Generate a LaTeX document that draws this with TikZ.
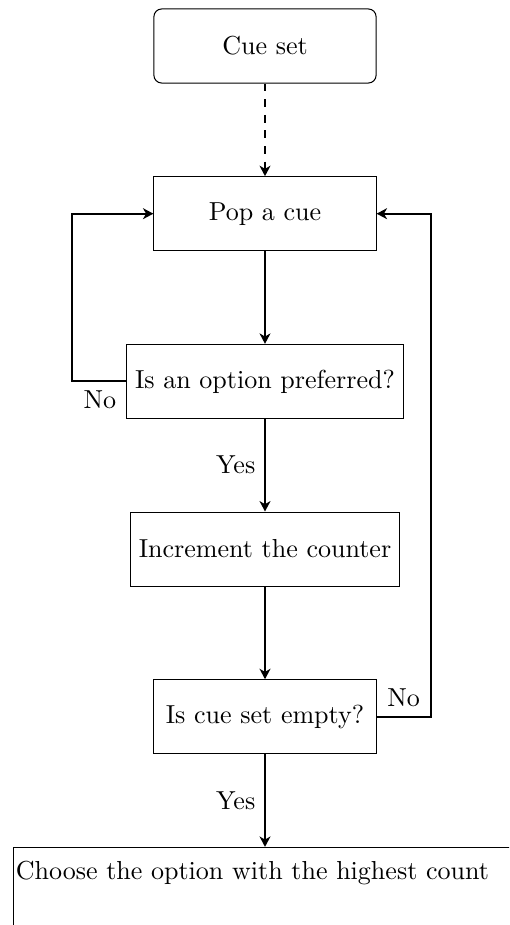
\documentclass[tikz,border=0pt]{standalone}
\usetikzlibrary{arrows.meta}
\usetikzlibrary{positioning}
\tikzset{
  fcbox/.style={
    draw, line width=0.4pt, minimum width=3cm, minimum height=1cm,
    inner sep=3.33pt},
  fcstart/.style={fcbox, rounded corners=3pt},
  fcarrow/.style={-{Stealth[length=4pt, width=4.2pt, inset=1.2pt]},
    line width=0.8pt},
  fcdash/.style={fcarrow, dashed},
}

\begin{document}
\begin{tikzpicture}[node distance=1.25cm]

% Page frame (the last box runs off the page).
\useasboundingbox (-3.578, 0.621) rectangle (3.295, -11.868);
\clip (-3.578, 0.621) rectangle (3.295, -11.868);

% Steps, top to bottom.
\node[fcstart] (cueset) at (0, 0) {Cue set};
\node[fcbox, below=of cueset] (pop) {Pop a cue};
\node[fcbox, below=of pop] (preferred) {Is an option preferred?};
\node[fcbox, below=of preferred] (increment) {Increment the counter};
\node[fcbox, below=of increment] (empty) {Is cue set empty?};
\node[fcbox, below=of empty, text width=6.73cm, align=left,
      inner xsep=1pt, inner ysep=5.4pt, text depth=1.5cm] (choose)
  {Choose the option with the highest count};

% Main line.
\draw[fcdash] (cueset) -- (pop);
\draw[fcarrow] (pop) -- (preferred);
\draw[fcarrow] (preferred) -- node[left] {Yes} (increment);
\draw[fcarrow] (increment) -- (empty);
\draw[fcarrow] (empty.south) -- node[left] {Yes} (choose.north);

% Loops back to the pop step.
\draw[fcarrow] (preferred.west) node[below left] {No}
  -- ++(-0.73, 0) |- (pop.west);
\draw[fcarrow] (empty.east) -- node[above] {No} ++(0.73, 0) |- (pop.east);

\end{tikzpicture}
\end{document}
